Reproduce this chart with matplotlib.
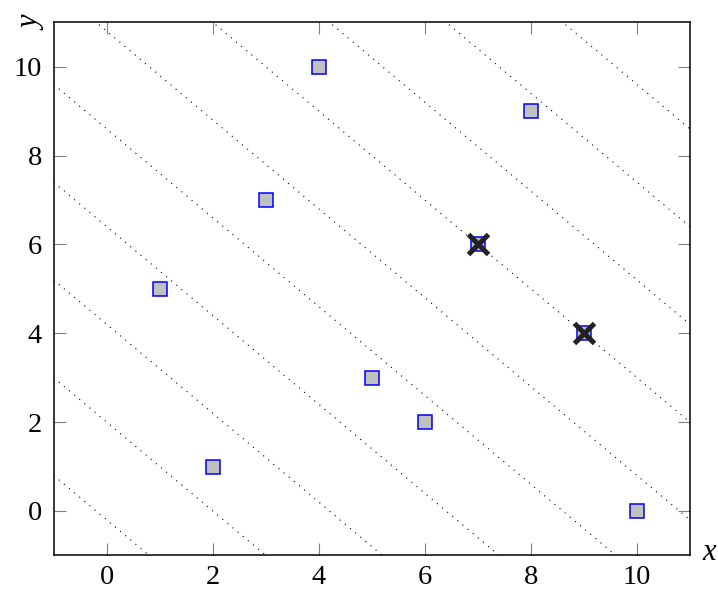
import numpy as np
import matplotlib
matplotlib.use("Agg")
import matplotlib.pyplot as plt

# Data
xs = [1, 2, 3, 4, 5, 6, 7, 8, 9, 10]
ys = [5, 1, 7, 10, 3, 2, 6, 9, 4, 0]
opt_x = [7, 9]
opt_y = [6, 4]
# level lines x + y = c
levels = [-0.2, 2.0, 4.2, 6.4, 8.6, 10.8, 13.0, 15.2, 17.4, 19.6]
xticks = [0, 2, 4, 6, 8, 10]
yticks = [0, 2, 4, 6, 8, 10]

plt.rcParams['font.family'] = ['Liberation Serif', 'DejaVu Serif']
plt.rcParams['lines.scale_dashes'] = False

fig = plt.figure(figsize=(7.18, 5.91), dpi=100)
ax = fig.add_axes([0.0748, 0.0602, 0.961 - 0.0748, 0.9623 - 0.0602])

xl = np.array([-1.0, 11.0])
for c in levels:
    ax.plot(xl, c - xl, color='black', lw=0.8, linestyle=(0, (0.8, 4.0)), zorder=1)

ax.plot(xs, ys, linestyle='none', marker='s', markersize=10.3,
        markerfacecolor='#c0c0c0', markeredgecolor='#0000ff', markeredgewidth=1.1, zorder=3)
ax.plot(opt_x, opt_y, linestyle='none', marker='x', markersize=15,
        markeredgecolor='#222222', markeredgewidth=3.6, zorder=4)

ax.set_xlim(-1, 11)
ax.set_ylim(-1, 11)
ax.set_xticks(xticks)
ax.set_yticks(yticks)
ax.tick_params(direction='in', length=8.4, width=0.8, color='#808080',
               top=True, right=True, labelsize=20.5, pad=7)
ax.tick_params(axis='y', pad=8.5)
for s in ax.spines.values():
    s.set_linewidth(1.1)
    s.set_color('black')

ax.text(1.030, 0.006, 'x', transform=ax.transAxes, fontsize=22, style='italic',
        ha='center', va='center')
ax.text(-0.034, 0.998, 'y', transform=ax.transAxes, fontsize=22, style='italic',
        ha='center', va='center', rotation=90)

fig.savefig('out.png', dpi=100)
